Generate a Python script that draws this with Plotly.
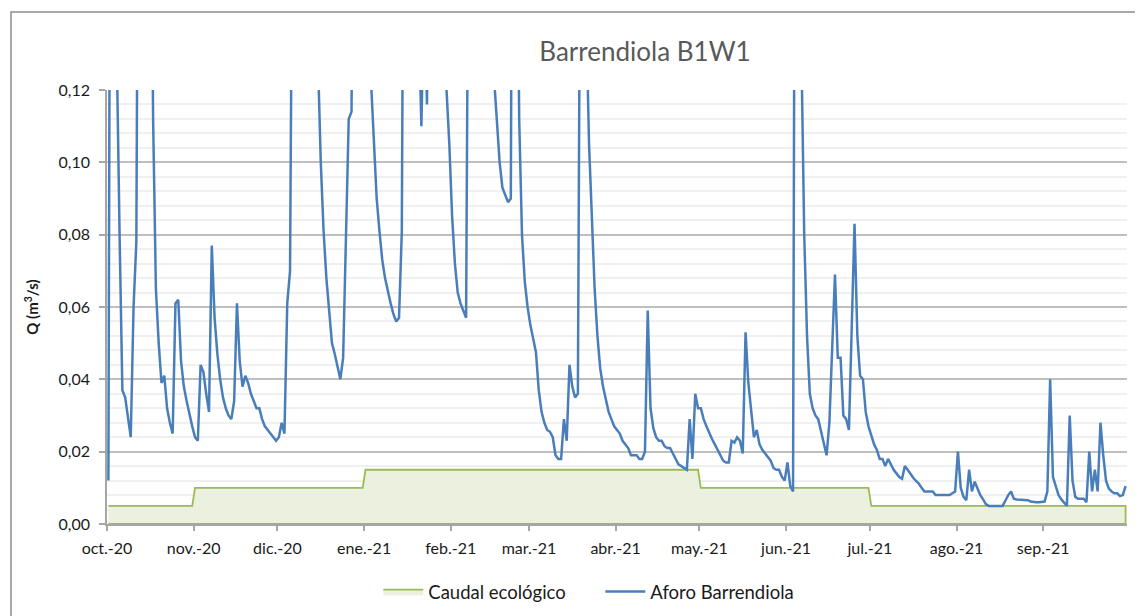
import pandas as pd
import plotly.graph_objects as go

# ---- data (daily flow, m3/s), Oct 2020 - Sep 2021 ----
oct20 = [0.012, 0.30, 0.25, 0.13, 0.080, 0.037, 0.035, 0.029, 0.024, 0.060, 0.078, 0.25, 0.35, 0.30, 0.24, 0.20,
         0.112, 0.065, 0.050, 0.039, 0.041, 0.032, 0.028, 0.025, 0.061, 0.062, 0.045, 0.038, 0.034, 0.030, 0.027]
nov20 = [0.024, 0.023, 0.044, 0.042, 0.036, 0.031, 0.077, 0.057, 0.047, 0.040, 0.035, 0.032, 0.030, 0.029, 0.034,
         0.061, 0.045, 0.038, 0.041, 0.039, 0.036, 0.034, 0.032, 0.032, 0.029, 0.027, 0.026, 0.025, 0.024, 0.023]
dic20 = [0.024, 0.028, 0.025, 0.061, 0.070, 0.25, 0.40, 0.45, 0.38, 0.30, 0.25, 0.20, 0.17, 0.145, 0.128, 0.100,
         0.081, 0.068, 0.059, 0.050, 0.047, 0.043, 0.040, 0.046, 0.080, 0.112, 0.114, 0.25, 0.35, 0.30, 0.24]
ene21 = [0.18, 0.14, 0.122, 0.104, 0.090, 0.081, 0.073, 0.068, 0.064, 0.061, 0.058, 0.056, 0.057, 0.081, 0.25,
         0.35, 0.30, 0.25, 0.20, 0.14, 0.110, 0.15, 0.116, 0.16, 0.30, 0.35, 0.28, 0.20, 0.15, 0.120, 0.105]
feb21 = [0.085, 0.072, 0.064, 0.061, 0.059, 0.057, 0.20, 0.35, 0.40, 0.35, 0.28, 0.22, 0.18, 0.15, 0.135, 0.123,
         0.110, 0.100, 0.093, 0.091, 0.089, 0.090, 0.30, 0.20, 0.112, 0.080, 0.067, 0.060]
mar21 = [0.055, 0.0515, 0.0475, 0.037, 0.031, 0.028, 0.026, 0.0255, 0.024, 0.019, 0.018, 0.018, 0.029, 0.023,
         0.044, 0.038, 0.035, 0.036, 0.20, 0.30, 0.14, 0.105, 0.087, 0.065, 0.052, 0.043, 0.038, 0.034, 0.031,
         0.029, 0.027]
abr21 = [0.026, 0.025, 0.023, 0.022, 0.021, 0.019, 0.019, 0.019, 0.018, 0.018, 0.020, 0.059, 0.032, 0.0265,
         0.024, 0.023, 0.023, 0.0215, 0.021, 0.021, 0.0195, 0.018, 0.0165, 0.016, 0.0155, 0.015, 0.029, 0.018,
         0.036, 0.032]
may21 = [0.032, 0.029, 0.027, 0.025, 0.0235, 0.022, 0.0205, 0.019, 0.0175, 0.017, 0.017, 0.023, 0.0225, 0.024,
         0.023, 0.0195, 0.053, 0.039, 0.031, 0.024, 0.026, 0.022, 0.0205, 0.0195, 0.0185, 0.0175, 0.0155, 0.015,
         0.015, 0.013, 0.012]
jun21 = [0.017, 0.0105, 0.009, 0.30, 0.25, 0.130, 0.080, 0.052, 0.036, 0.032, 0.030, 0.029, 0.0258, 0.022, 0.019,
         0.028, 0.048, 0.069, 0.046, 0.046, 0.030, 0.029, 0.026, 0.055, 0.083, 0.052, 0.041, 0.040, 0.031, 0.027]
jul21 = [0.0245, 0.022, 0.0205, 0.018, 0.018, 0.016, 0.018, 0.0165, 0.015, 0.014, 0.013, 0.0125, 0.016, 0.015,
         0.0138, 0.0128, 0.0119, 0.0112, 0.010, 0.009, 0.009, 0.009, 0.009, 0.008, 0.008, 0.008, 0.008, 0.008,
         0.008, 0.0085, 0.009]
ago21 = [0.020, 0.010, 0.0075, 0.0066, 0.015, 0.009, 0.0117, 0.0097, 0.008, 0.0068, 0.0055, 0.005, 0.005, 0.005,
         0.005, 0.005, 0.005, 0.0065, 0.008, 0.009, 0.007, 0.0068, 0.0068, 0.0068, 0.0068, 0.0066, 0.0062, 0.006,
         0.006, 0.006, 0.006]
sep21 = [0.0062, 0.009, 0.040, 0.013, 0.0105, 0.008, 0.0068, 0.006, 0.005, 0.030, 0.012, 0.0075, 0.007, 0.007,
         0.007, 0.006, 0.020, 0.009, 0.015, 0.009, 0.028, 0.019, 0.012, 0.0098, 0.009, 0.0085, 0.0085, 0.0077,
         0.008, 0.0105]

months = ["2020-10", "2020-11", "2020-12", "2021-01", "2021-02", "2021-03",
          "2021-04", "2021-05", "2021-06", "2021-07", "2021-08", "2021-09"]
month_labels = ["oct.-20", "nov.-20", "dic.-20", "ene.-21", "feb.-21", "mar.-21",
                "abr.-21", "may.-21", "jun.-21", "jul.-21", "ago.-21", "sep.-21"]
# ecological flow per month (m3/s)
caudal_eco_mensual = [0.005, 0.010, 0.010, 0.015, 0.015, 0.015, 0.015, 0.010, 0.010, 0.005, 0.005, 0.005]

aforo = oct20 + nov20 + dic20 + ene21 + feb21 + mar21 + abr21 + may21 + jun21 + jul21 + ago21 + sep21

days = pd.date_range("2020-10-01", periods=len(aforo), freq="D")
x = days + pd.Timedelta(hours=12)
eco = [caudal_eco_mensual[months.index(d.strftime("%Y-%m"))] for d in days]

FONT = "Lato, 'Noto Sans', Arial, sans-serif"

# page body has an 8px margin -> layout coordinates are page coordinates minus 8
OFF = 8
W, H = 1143, 616
PL, PR, PT, PB = 107 - OFF, 1127 - OFF, 90 - OFF, 524 - OFF
pw, ph = PR - PL, PB - PT


def px_x(v):
    return (v - OFF - PL) / pw


def px_y(v):
    return (PB - (v - OFF)) / ph


fig = go.Figure()
fig.add_trace(go.Scatter(
    x=list(x) + list(x[::-1]), y=eco + [0.0] * len(eco),
    fill="toself", fillcolor="#EBF1DE", mode="lines",
    line=dict(color="#9BBB59", width=1.8),
    name="Caudal ecológico", hoverinfo="skip",
))
fig.add_trace(go.Scatter(
    x=x, y=aforo, mode="lines",
    line=dict(color="#4A7EBB", width=2.5),
    name="Aforo Barrendiola",
))

fig.update_layout(
    width=W, height=H,
    margin=dict(l=PL, r=W - PR, t=PT, b=H - PB, autoexpand=False),
    paper_bgcolor="white", plot_bgcolor="white",
    separators=", ",
    font=dict(family=FONT, size=16, color="#1a1a1a"),
    title=dict(text="Barrendiola B1W1", x=(645 - OFF) / W, xanchor="center",
               y=1 - (52 - OFF) / H, yanchor="middle",
               font=dict(family=FONT, size=26, color="#595959")),
    showlegend=True,
    legend=dict(orientation="h", x=px_x(383) - 0.035 + 31 / pw, xanchor="left", y=px_y(592), yanchor="middle",
                font=dict(family=FONT, size=18.5, color="#1a1a1a"), traceorder="normal",
                itemwidth=40, entrywidth=167, entrywidthmode="pixels"),
    shapes=[dict(type="rect", xref="paper", yref="paper",
                 x0=px_x(11), x1=px_x(1170), y0=px_y(660), y1=px_y(12),
                 line=dict(color="#8c8c8c", width=1.5), fillcolor="rgba(0,0,0,0)", layer="below")],
)
fig.update_xaxes(
    type="date", range=["2020-10-01", "2021-10-01"], automargin=False,
    tickmode="array", tickvals=[m + "-01" for m in months], ticktext=month_labels,
    showgrid=False, showline=True, linecolor="#a6a6a6", linewidth=1.5,
    ticks="outside", ticklen=5, tickcolor="#a6a6a6", tickwidth=1.5, ticklabelstandoff=4,
    tickfont=dict(family=FONT, size=16, color="#1a1a1a"),
)
fig.update_yaxes(
    range=[0, 0.12], dtick=0.02, tickformat=".2f", automargin=False,
    showgrid=True, gridcolor="#BFBFBF", gridwidth=1.5,
    minor=dict(dtick=0.004, showgrid=True, gridcolor="#F0F0F0", gridwidth=1.5),
    showline=True, linecolor="#a6a6a6", linewidth=1.5,
    ticks="outside", ticklen=6, tickcolor="#a6a6a6", tickwidth=1.5, ticklabelstandoff=6,
    tickfont=dict(family=FONT, size=16, color="#1a1a1a"),
    zeroline=False,
    title=dict(text="<b>Q (m<sup>3</sup>/s)</b>", font=dict(family=FONT, size=15, color="#1a1a1a"),
               standoff=16),
)

fig.write_html("out.html")
